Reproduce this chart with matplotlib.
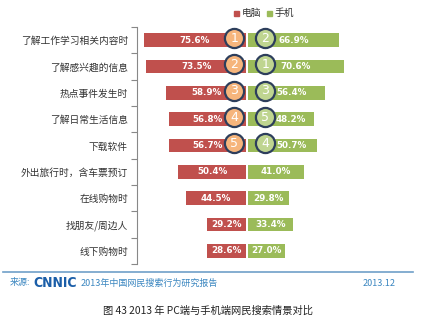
import matplotlib
matplotlib.use("Agg")
import matplotlib.pyplot as plt
from matplotlib.patches import Rectangle
import numpy as np

plt.rcParams['font.family'] = ['Noto Sans CJK SC', 'DejaVu Sans']

categories = ["了解工作学习相关内容时", "了解感兴趣的信息", "热点事件发生时", "了解日常生活信息",
              "下载软件", "外出旅行时，含车票预订", "在线购物时", "找朋友/周边人", "线下购物时"]
pc_values = [75.6, 73.5, 58.9, 56.8, 56.7, 50.4, 44.5, 29.2, 28.6]
mobile_values = [66.9, 70.6, 56.4, 48.2, 50.7, 41.0, 29.8, 33.4, 27.0]
pc_rank = [1, 2, 3, 4, 5]
mobile_rank = [2, 1, 3, 5, 4]
series_names = ["电脑", "手机"]

RED = "#c0504d"
GREEN = "#9bbb59"

W, H = 440, 331
fig = plt.figure(figsize=(W / 100, H / 100), dpi=100)
fig.patch.set_facecolor("white")

ax_left, ax_right = 137, 424
ax_top, ax_bot = 27, 264
ax = fig.add_axes([ax_left / W, 1 - ax_bot / H, (ax_right - ax_left) / W, (ax_bot - ax_top) / H], zorder=2)
ax.patch.set_alpha(0)
xmin, xmax = -81, 130
ax.set_xlim(xmin, xmax)
n = len(categories)
ax.set_ylim(n - 0.5, -0.5)
y = np.arange(n)
bh = 0.52
ax.barh(y, [-v for v in pc_values], height=bh, color=RED, edgecolor="none", left=-0.6)
ax.barh(y, mobile_values, height=bh, color=GREEN, edgecolor="none", left=0.6)

pxu = (ax_right - ax_left) / (xmax - xmin)
pc_circle_x = -(247 - 234.3) / pxu
mob_circle_x = (265 - 247) / pxu
min_mob_label = (291 - 247) / pxu

for i in range(n):
    ax.text(-0.6 - pc_values[i] / 2, i, f"{pc_values[i]:.1f}%", color="white", fontsize=6.3,
            fontweight="bold", ha="center", va="center", family="DejaVu Sans", zorder=3)
    mx = 0.6 + mobile_values[i] / 2
    if i < len(mobile_rank):
        mx = max(mx, min_mob_label)
    ax.text(mx, i, f"{mobile_values[i]:.1f}%", color="white", fontsize=6.3,
            fontweight="bold", ha="center", va="center", family="DejaVu Sans", zorder=3)

for i, r in enumerate(pc_rank):
    ax.scatter([pc_circle_x], [i - 0.08], s=190, facecolor="#f6b57c", edgecolor="#2d3e5c",
               linewidth=1.6, zorder=4)
    ax.text(pc_circle_x, i - 0.08, str(r), color="white", fontsize=9, ha="center",
            va="center", zorder=5, family="DejaVu Sans")
for i, r in enumerate(mobile_rank):
    ax.scatter([mob_circle_x], [i - 0.08], s=190, facecolor="#bfd590", edgecolor="#2d3e5c",
               linewidth=1.6, zorder=4)
    ax.text(mob_circle_x, i - 0.08, str(r), color="white", fontsize=9, ha="center",
            va="center", zorder=5, family="DejaVu Sans")

ax.set_yticks(y)
ax.set_yticklabels(categories, fontsize=7, color="#333333")
ax.tick_params(axis="y", which="major", length=0, pad=6.5)
ax.set_yticks(np.arange(n + 1) - 0.5, minor=True)
ax.tick_params(axis="y", which="minor", length=4, color="#888888", width=0.8)
ax.set_xticks([])
for s in ["top", "right", "bottom"]:
    ax.spines[s].set_visible(False)
ax.spines["left"].set_color("#888888")
ax.spines["left"].set_linewidth(0.8)

# legend
fig.add_artist(Rectangle((234 / W, 1 - 16 / H), 4.5 / W, 4.5 / H, color=RED, transform=fig.transFigure))
fig.text(242 / W, 1 - 13 / H, series_names[0], color="#333333", fontsize=7, ha="left", va="center")
fig.add_artist(Rectangle((267 / W, 1 - 16 / H), 4.5 / W, 4.5 / H, color=GREEN, transform=fig.transFigure))
fig.text(275 / W, 1 - 13 / H, series_names[1], color="#333333", fontsize=7, ha="left", va="center")

# footer
fig.add_artist(plt.Line2D([3 / W, 413 / W], [1 - 272 / H, 1 - 272 / H], color="#6fa0c8", linewidth=1.2))
fig.text(10 / W, 1 - 283 / H, "来源:", color="#3a86c0", fontsize=6.5, ha="left", va="center")
fig.text(33 / W, 1 - 283 / H, "CNNIC", color="#1b5ea8", fontsize=10, fontweight="heavy",
         ha="left", va="center", family="DejaVu Sans", fontstretch="condensed")
fig.text(81 / W, 1 - 283 / H, "2013年中国网民搜索行为研究报告", color="#3a86c0", fontsize=6.5,
         ha="left", va="center")
fig.text(396 / W, 1 - 283 / H, "2013.12", color="#3a86c0", fontsize=6.5, ha="right", va="center")
fig.text(208 / W, 1 - 311 / H, "图 43 2013 年 PC端与手机端网民搜索情景对比", color="#222222", fontsize=7.4,
         ha="center", va="center")

fig.savefig("out.png", dpi=100, facecolor="white")
